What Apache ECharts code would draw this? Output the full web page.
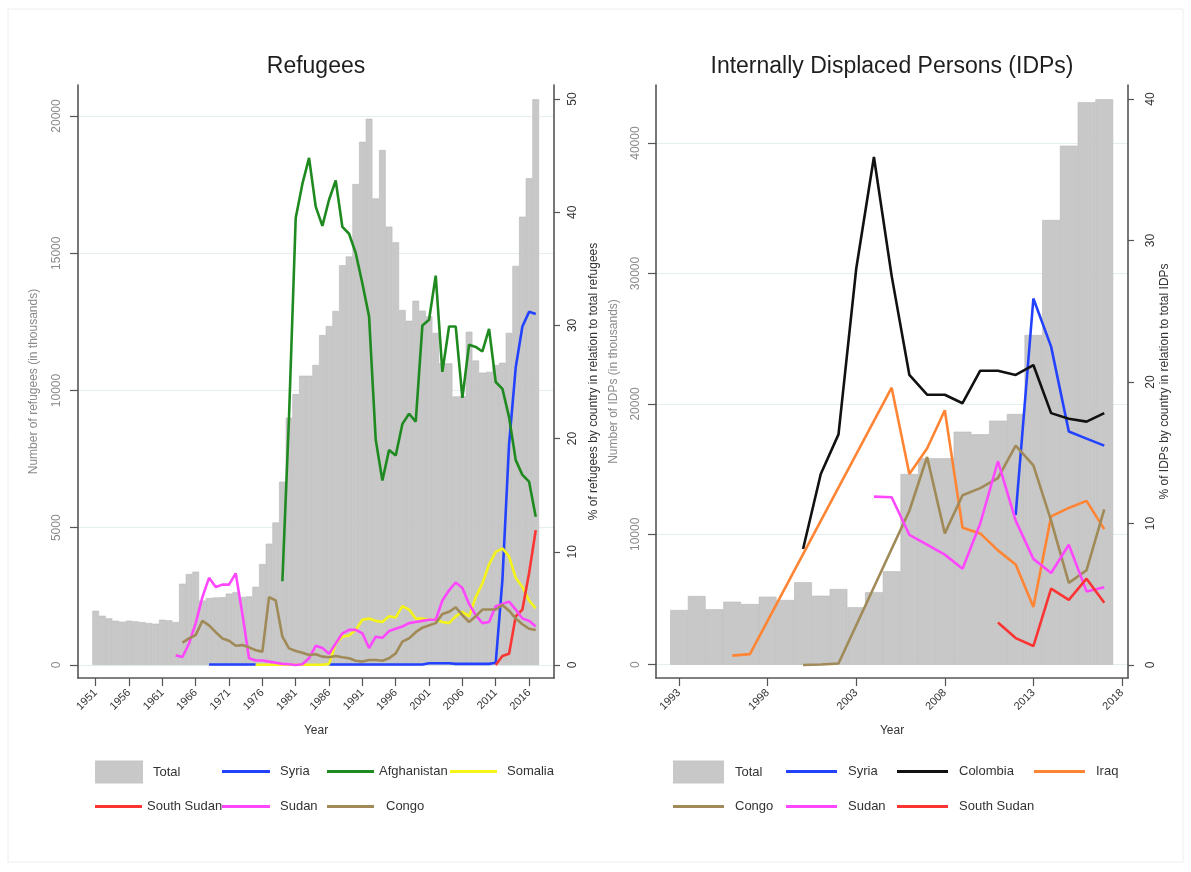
<!DOCTYPE html>
<html><head><meta charset="utf-8">
<script src="https://cdn.jsdelivr.net/npm/echarts@6/dist/echarts.min.js"></script>
<style>html,body{margin:0;padding:0;background:#fff}#c{width:1191px;height:872px}</style>
</head><body><div id="c"></div><script>
// ---------- Refugees panel ----------
const refYears = [1951,1952,1953,1954,1955,1956,1957,1958,1959,1960,1961,1962,1963,1964,1965,1966,1967,1968,1969,1970,
  1971,1972,1973,1974,1975,1976,1977,1978,1979,1980,1981,1982,1983,1984,1985,1986,1987,1988,1989,1990,
  1991,1992,1993,1994,1995,1996,1997,1998,1999,2000,2001,2002,2003,2004,2005,2006,2007,2008,2009,2010,
  2011,2012,2013,2014,2015,2016,2017];
const refTotal = [1978,1796,1700,1615,1578,1615,1590,1566,1530,1505,1651,1627,1566,2962,3315,3400,2350,2440,2460,2470,
  2600,2650,2480,2500,2850,3680,4420,5190,6680,9010,9870,10540,10540,10930,12020,12350,12900,14560,14880,17520,
  19060,19900,17000,18760,15970,15400,12930,12540,13270,12910,12700,12100,10990,10990,9780,9800,12140,11090,10650,10680,
  10930,11010,12100,14540,16330,17730,20610];
// shares (% of total refugees); start year + yearly values, null = no data
const refSyriaStart = 1968;
const refSyria = [0.05,0.05,0.05,0.05,0.05,0.05,0.05,0.05,
  null,null,null,null,null,null,null,null,null,null,
  0.05,0.05,0.05,0.05,0.05,0.05,0.05,0.05,0.05,0.05,0.05,0.05,0.05,0.05,0.05,0.15,0.15,0.15,0.15,0.1,0.1,0.1,0.1,0.1,0.1,
  0.2,7.5,19.5,26.3,29.9,31.2,31.0];
const refAfghanistanStart = 1979;
const refAfghanistan = [7.4,22,39.5,42.5,44.8,40.5,38.8,41.1,42.8,38.7,38.1,36.4,33.7,30.8,19.9,16.3,19.0,18.5,21.3,22.2,
  21.5,30.0,30.5,34.4,25.9,29.9,29.9,23.6,28.3,28.1,27.7,29.7,25.0,24.4,21.9,18.1,16.8,16.2,13.1];
const refSomaliaStart = 1975;
const refSomalia = [0.02,0.02,0.02,0.02,0.02,0.02,0.02,0.02,0.02,0.02,0.02,0.1,1.9,2.5,2.6,3.1,4.0,4.1,3.9,3.8,
  4.3,4.2,5.2,4.9,4.1,4.1,4.0,4.0,3.8,3.7,4.3,4.7,4.3,6.0,7.2,8.9,10.0,10.3,9.6,7.7,6.9,5.7,5.0];
const refSouthSudanStart = 2011;
const refSouthSudan = [0,0.8,1.0,4.3,4.9,8.1,11.9];
const refSudanStart = 1963;
const refSudan = [0.85,0.7,1.9,3.7,6.0,7.7,6.9,7.1,7.1,8.1,4.5,0.6,0.4,0.4,0.3,0.2,0.1,0.06,0.0,0.06,
  0.6,1.7,1.5,1.0,1.9,2.8,3.1,3.1,2.8,1.5,2.5,2.4,3.0,3.2,3.4,3.7,3.8,3.9,4.0,4.0,
  5.7,6.6,7.3,6.8,5.4,4.4,3.7,3.8,5.2,5.4,5.6,4.9,4.1,3.9,3.4];
const refCongoStart = 1964;
const refCongo = [1.97,2.35,2.65,3.9,3.5,2.9,2.35,2.15,1.7,1.76,1.56,1.3,1.18,6.0,5.7,2.5,1.47,1.24,1.09,0.88,
  0.95,0.74,0.68,0.8,0.68,0.6,0.38,0.3,0.44,0.44,0.38,0.6,1.03,2.06,2.35,2.9,3.3,3.5,3.7,4.5,
  4.7,5.1,4.4,3.8,4.3,4.9,4.9,4.9,5.3,4.8,4.1,3.6,3.2,3.1];
const refYTicks = [0,5000,10000,15000,20000];
const refPctTicks = [0,10,20,30,40,50];
const refXTicks = [1951,1956,1961,1966,1971,1976,1981,1986,1991,1996,2001,2006,2011,2016];

// ---------- IDP panel ----------
const idpYears = [1993,1994,1995,1996,1997,1998,1999,2000,2001,2002,2003,2004,2005,2006,2007,2008,2009,2010,2011,2012,2013,2014,2015,2016,2017];
const idpTotal = [4195,5268,4248,4831,4655,5215,4962,6319,5291,5805,4402,5552,7162,14624,15828,15828,17868,17667,18712,19225,25284,34103,39800,43128,43358];
const idpSyriaStart = 2012;
const idpSyria = [10.6,25.9,22.5,16.5,16.0,15.5];
const idpColombiaStart = 2000;
const idpColombia = [8.2,13.5,16.3,28.0,35.9,27.5,20.5,19.1,19.1,18.5,20.8,20.8,20.5,21.2,17.8,17.4,17.2,17.8];
const idpIraqStart = 1996;
const idpIraq = [0.66,0.77,null,null,null,null,null,null,null,19.6,13.5,15.3,18.0,9.7,9.3,8.1,7.1,4.1,10.5,11.1,11.6,9.6];
const idpCongoStart = 2000;
const idpCongo = [0,0.03,0.1,null,null,null,10.9,14.7,9.3,12.0,12.5,13.2,15.5,14.1,10.2,5.8,6.7,11.0];
const idpSudanStart = 2004;
const idpSudan = [11.9,11.85,9.2,8.5,7.8,6.8,10.0,14.4,10.2,7.5,6.5,8.5,5.2,5.5];
const idpSouthSudanStart = 2011;
const idpSouthSudan = [3.0,1.9,1.34,5.4,4.6,6.1,4.4];
const idpYTicks = [0,10000,20000,30000,40000];
const idpPctTicks = [0,10,20,30,40];
const idpXTicks = [1993,1998,2003,2008,2013,2018];

// ---------- styling ----------
const FONT = 'Liberation Sans, Arial, Helvetica, sans-serif';
const COLORS = {Total:'#c8c8c8', Syria:'#2342ff', Afghanistan:'#1f8a1f', Somalia:'#f4f419', 'South Sudan':'#fb3434',
  Sudan:'#ff47ff', Congo:'#a08a58', Colombia:'#111111', Iraq:'#ff8534'};
const AXC = '#555555';

function pairs(start, vals, connect) {
  const out = vals.map((v, i) => [start + i, v == null ? '-' : v]);
  return connect ? out.filter(p => p[1] !== '-') : out;
}
function lineSeries(name, start, vals, xi, yi, connect) {
  return {type:'line', name, xAxisIndex:xi, yAxisIndex:yi, data:pairs(start, vals, connect),
    symbol:'none', smooth:false, connectNulls:!!connect, z:3,
    lineStyle:{color:COLORS[name], width:2.6}, itemStyle:{color:COLORS[name]}};
}
function barSeries(years, vals, xi, yi, bw) {
  return {type:'bar', name:'Total', xAxisIndex:xi, yAxisIndex:yi, data:years.map((y,i)=>[y, vals[i]]),
    barWidth:bw, z:2, itemStyle:{color:COLORS.Total, borderColor:'#b9b9b9', borderWidth:0.6}};
}
const fmt = v => String(v);
function yAxis(gi, pos, min, max, ticks, name, nameGap, labColor, nameColor, margin, tickLen, grid) {
  return {type:'value', gridIndex:gi, position:pos, min, max, name, nameLocation:'middle', nameGap, nameRotate:90,
    nameTextStyle:{color:nameColor, fontSize:12, fontFamily:FONT},
    axisLine:{show:true, onZero:false, lineStyle:{color:AXC, width:1.6}},
    axisTick:{show:true, length:tickLen, customValues:ticks, lineStyle:{color:AXC, width:1.2}},
    axisLabel:{customValues:ticks, rotate:90, margin, color:labColor, fontSize:12, fontFamily:FONT, formatter:fmt},
    splitLine:{show:grid, lineStyle:{color:'#e4edf0', width:1}}};
}
function xAxis(gi, min, max, ticks) {
  return {type:'value', gridIndex:gi, min, max, name:'Year', nameLocation:'middle', nameGap:47,
    nameTextStyle:{color:'#333', fontSize:12, fontFamily:FONT},
    axisLine:{show:true, onZero:false, lineStyle:{color:AXC, width:1.6}},
    axisTick:{show:true, length:8, customValues:ticks, lineStyle:{color:AXC, width:1.2}},
    axisLabel:{customValues:ticks, rotate:45, margin:13, color:'#333', fontSize:11, fontFamily:FONT, formatter:fmt},
    splitLine:{show:false}};
}

// grid geometry
const G1 = {left:78, top:85, width:476, height:593};
const G2 = {left:656, top:85, width:472, height:593};
const X1 = [1948.345, 2019.74], X2 = [1991.70, 2018.34];

const legendDefs = [
  // [name, left, rowCenterY, textGap, iconWidth]
  ['Total',95,772,10,48],['Syria',222,772,10,48],['Afghanistan',327,772,5,47],['Somalia',450,772,10,47],
  ['South Sudan',95,807,5,47],['Sudan',222,807,10,48],['Congo',327,807,12,47],
  ['Total',673,772,11,51],['Syria',786,772,11,51],['Colombia',897,772,11,51],['Iraq',1034,772,11,51],
  ['Congo',673,807,11,51],['Sudan',786,807,11,51],['South Sudan',897,807,11,51]
];
const legends = legendDefs.map(([n, l, cy, gap, w]) => {
  const isBar = n === 'Total';
  const h = isBar ? 23 : 3;
  return {data:[{name:n, icon:'rect', itemStyle:{color:COLORS[n], borderWidth:0}}],
    left:l, top: isBar ? cy - 11.5 : cy - 7, padding:0, itemWidth:w, itemHeight:h, selectedMode:false,
    textStyle:{color:'#333', fontSize:13, fontFamily:FONT, padding:[0,0,0,gap-5]}};
});

const option = {
  backgroundColor:'#ffffff',
  animation:false,
  textStyle:{fontFamily:FONT},
  title:[
    {text:'Refugees', left:G1.left + G1.width/2, top:55, textAlign:'center', padding:0,
      textStyle:{fontSize:23, fontWeight:'normal', color:'#1e1e1e', fontFamily:FONT}},
    {text:'Internally Displaced Persons (IDPs)', left:G2.left + G2.width/2, top:55, textAlign:'center', padding:0,
      textStyle:{fontSize:23, fontWeight:'normal', color:'#1e1e1e', fontFamily:FONT}}
  ],
  graphic:[{type:'rect', shape:{x:8, y:9, width:1175, height:853}, style:{fill:'none', stroke:'#eeeeee', lineWidth:1}, silent:true}],
  legend: legends,
  grid:[G1, G2],
  xAxis:[xAxis(0, X1[0], X1[1], refXTicks), xAxis(1, X2[0], X2[1], idpXTicks)],
  yAxis:[
    yAxis(0,'left', -473.6, 21129, refYTicks, 'Number of refugees (in thousands)', 38, '#8a8a8a', '#8a8a8a', 15, 8, true),
    yAxis(0,'right', -1.148, 51.24, refPctTicks, '% of refugees by country in relation to total refugees', 34, '#333', '#333', 13, 6, false),
    yAxis(1,'left', -1020, 44455, idpYTicks, 'Number of IDPs (in thousands)', 36, '#8a8a8a', '#8a8a8a', 14, 8, true),
    yAxis(1,'right', -0.92, 40.99, idpPctTicks, '% of IDPs by country in relation to total IDPs', 31, '#333', '#333', 17, 6, false)
  ],
  series:[
    barSeries(refYears, refTotal, 0, 0, G1.width/(X1[1]-X1[0])),
    lineSeries('Syria', refSyriaStart, refSyria, 0, 1, false),
    lineSeries('Afghanistan', refAfghanistanStart, refAfghanistan, 0, 1, false),
    lineSeries('Somalia', refSomaliaStart, refSomalia, 0, 1, false),
    lineSeries('South Sudan', refSouthSudanStart, refSouthSudan, 0, 1, false),
    lineSeries('Sudan', refSudanStart, refSudan, 0, 1, false),
    lineSeries('Congo', refCongoStart, refCongo, 0, 1, false),
    barSeries(idpYears, idpTotal, 1, 2, G2.width/(X2[1]-X2[0])),
    lineSeries('Syria', idpSyriaStart, idpSyria, 1, 3, false),
    lineSeries('Colombia', idpColombiaStart, idpColombia, 1, 3, false),
    lineSeries('Iraq', idpIraqStart, idpIraq, 1, 3, true),
    lineSeries('Congo', idpCongoStart, idpCongo, 1, 3, true),
    lineSeries('Sudan', idpSudanStart, idpSudan, 1, 3, false),
    lineSeries('South Sudan', idpSouthSudanStart, idpSouthSudan, 1, 3, false)
  ]
};
const chart = echarts.init(document.getElementById('c'), null, {renderer:'canvas'});
chart.setOption(option);
</script></body></html>
